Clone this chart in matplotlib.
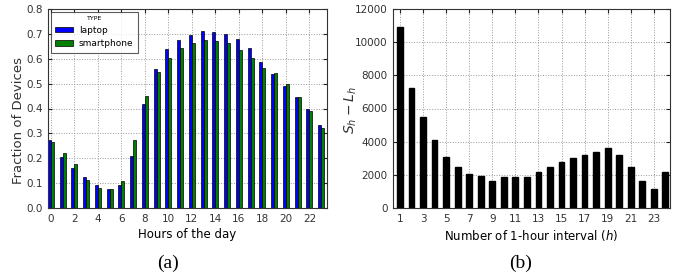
import numpy as np
import matplotlib.pyplot as plt

hours = list(range(24))
laptop = [0.275, 0.207, 0.160, 0.126, 0.093, 0.078, 0.093, 0.209, 0.418, 0.560,
          0.640, 0.676, 0.696, 0.711, 0.706, 0.698, 0.680, 0.644, 0.586, 0.538,
          0.492, 0.447, 0.400, 0.333]
smartphone = [0.267, 0.220, 0.176, 0.113, 0.080, 0.075, 0.109, 0.272, 0.449, 0.546,
              0.603, 0.645, 0.665, 0.677, 0.673, 0.663, 0.636, 0.601, 0.561, 0.541,
              0.500, 0.448, 0.389, 0.323]

intervals = list(range(1, 25))
diff = [10900, 7250, 5500, 4100, 3100, 2500, 2070, 1910, 1630, 1870,
        1900, 1900, 2150, 2470, 2770, 3020, 3210, 3350, 3600, 3210,
        2490, 1620, 1160, 2150]

plt.rcParams['font.family'] = 'DejaVu Sans'

fig = plt.figure(figsize=(6.81, 2.8), dpi=100)
ax1 = fig.add_axes([48 / 681, 0.257, 279 / 681, 0.711])
ax2 = fig.add_axes([393 / 681, 0.257, 277 / 681, 0.711])

def style(ax):
    ax.tick_params(direction='in', top=True, right=True, labelsize=7.5, length=3,
                   pad=4, colors='#222222', labelcolor='#333333')
    ax.grid(True, linestyle=':', color='#999999', linewidth=0.7)
    ax.set_axisbelow(True)
    for s in ax.spines.values():
        s.set_linewidth(0.8)
        s.set_color('#333333')

# (a)
w = 0.25
x = np.array(hours)
ax1.bar(x - w / 2, laptop, w, color='#0000ff', edgecolor='black', linewidth=0.5, label='laptop')
ax1.bar(x + w / 2, smartphone, w, color='#008000', edgecolor='black', linewidth=0.5, label='smartphone')
ax1.set_xlim(-0.25, 23.5)
ax1.set_ylim(0, 0.8)
ax1.set_xticks(range(0, 24, 2))
ax1.set_yticks(np.arange(0, 0.81, 0.1))
ax1.set_xlabel('Hours of the day', fontsize=8.5, labelpad=3)
ax1.set_ylabel('Fraction of Devices', fontsize=9.5, color='#333333')
ax1.yaxis.set_label_coords(-0.082, 0.44)
style(ax1)
leg = ax1.legend(loc='upper left', title='TYPE', fontsize=6.5, title_fontsize=4.5,
                 fancybox=False, edgecolor='#333333', handlelength=2.0, handleheight=0.6,
                 borderaxespad=0.3, labelspacing=0.5, handletextpad=0.6, borderpad=0.5)
leg.get_frame().set_linewidth(0.8)

# (b)
ax2.bar(intervals, diff, 0.5, color='black', edgecolor='black')
ax2.set_xlim(0.4, 24.4)
ax2.set_ylim(0, 12000)
ax2.set_xticks(range(1, 24, 2))
ax2.set_yticks(range(0, 12001, 2000))
ax2.set_xlabel('Number of 1-hour interval ($h$)', fontsize=8.5, labelpad=3)
ax2.set_ylabel('$S_h - L_h$', fontsize=10, color='#333333')
ax2.yaxis.set_label_coords(-0.123, 0.49)
style(ax2)

fig.text(0.247, 0.06, '(a)', fontsize=14, family='Liberation Serif', ha='center', va='center')
fig.text(0.764, 0.06, '(b)', fontsize=14, family='Liberation Serif', ha='center', va='center')

fig.savefig('out.png', dpi=100)
